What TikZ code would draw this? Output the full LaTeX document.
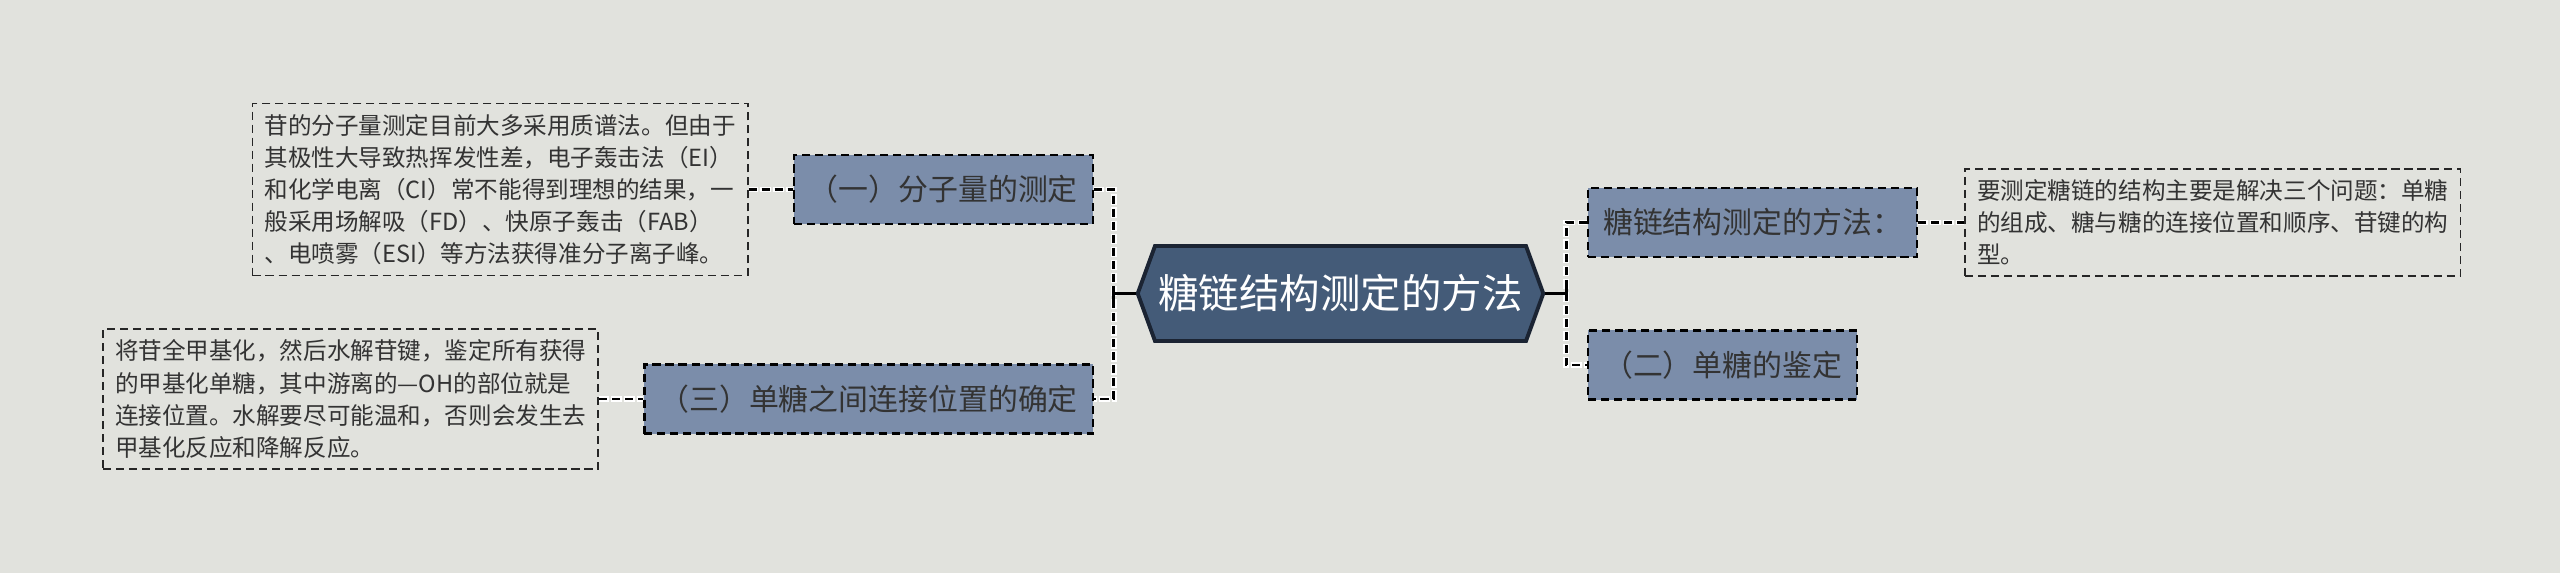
\documentclass[tikz,border=0pt]{standalone}
\usepackage{fontspec}
\setmainfont{Noto Sans CJK SC}
\usepackage{tikz}
\usetikzlibrary{positioning, calc, shapes.symbols}
\usepackage{xcolor}
\definecolor{mapbg}{HTML}{E1E2DD}
\definecolor{mapnode}{HTML}{7B8DAA}
\definecolor{maproot}{HTML}{445B78}
\definecolor{maprootline}{HTML}{1B2433}
\definecolor{maptext}{HTML}{333333}

\begin{document}
\begin{tikzpicture}[x=0.01cm, y=-0.01cm,
  rootnode/.style={shape=signal, signal to=west and east, signal pointer angle=140,
    fill=maproot, draw=maprootline, line width=1.1pt, text=white,
    font=\fontsize{11.5}{13}\selectfont, inner xsep=1pt, minimum height=0.95cm},
  branch/.style={draw=black, line width=0.65pt, dash pattern=on 2.3pt off 1.4pt,
    fill=mapnode, text=maptext, font=\fontsize{8.5}{10}\selectfont,
    inner xsep=0.15cm, minimum height=0.69cm},
  leaf/.style={draw=black!85, line width=0.5pt, dash pattern=on 2.3pt off 1.4pt,
    text=maptext, font=\fontsize{6.7}{9.1}\selectfont, align=left,
    minimum width=4.95cm, inner ysep=0.11cm},
  link/.style={draw=black, line width=0.85pt, dash pattern=on 2.3pt off 1.4pt,
    preaction={draw=white, line width=1.7pt, dash pattern=on 3.1pt off 0.6pt, dash phase=0.4pt}},
  stem/.style={draw=black, line width=0.95pt}
]
  % Background
  \fill[mapbg] (0,0) rectangle (2560,573);
  \useasboundingbox (0,0) rectangle (2560,573);

  % Root
  \node[rootnode] (root) at (1340.5,293.5) {糖链结构测定的方法};

  % Branches
  \node[branch, anchor=east] (one)   at (1094,189.5) {（一）分子量的测定};
  \node[branch, anchor=east] (three) at (1094,399)   {（三）单糖之间连接位置的确定};
  \node[branch, anchor=west] (way)   at (1587,222.5) {糖链结构测定的方法：};
  \node[branch, anchor=west] (two)   at (1587,365)   {（二）单糖的鉴定};

  % Leaves
  \node[leaf, left=0.44cm of one] (oneleaf) {苷的分子量测定目前大多采用质谱法。但由于\\
    其极性大导致热挥发性差，电子轰击法（EI）\\
    和化学电离（CI）常不能得到理想的结果，一\\
    般采用场解吸（FD）、快原子轰击（FAB）\\
    、电喷雾（ESI）等方法获得准分子离子峰。};
  \node[leaf, left=0.44cm of three] (threeleaf) {将苷全甲基化，然后水解苷键，鉴定所有获得\\
    的甲基化单糖，其中游离的—OH的部位就是\\
    连接位置。水解要尽可能温和，否则会发生去\\
    甲基化反应和降解反应。};
  \node[leaf, right=0.46cm of way] (wayleaf) {要测定糖链的结构主要是解决三个问题：单糖\\
    的组成、糖与糖的连接位置和顺序、苷键的构\\
    型。};

  % Connectors
  \coordinate[left=0.22cm of root.west] (lefthub);
  \coordinate[right=0.21cm of root.east] (righthub);
  \draw[link] (one.east) -| (lefthub) |- (three.east);
  \draw[link] (way.west) -| (righthub) |- (two.west);
  \draw[stem] (root.west) -- (lefthub);
  \draw[stem] (root.east) -- (righthub);
  \draw[stem] ([yshift=-0.07cm]lefthub) -- ([yshift=0.07cm]lefthub);
  \draw[stem] ([yshift=-0.07cm]righthub) -- ([yshift=0.07cm]righthub);
  \draw[link] (oneleaf.east) -- (one.west);
  \draw[link] (threeleaf.east) -- (three.west);
  \draw[link] (way.east) -- (wayleaf.west);
\end{tikzpicture}
\end{document}
